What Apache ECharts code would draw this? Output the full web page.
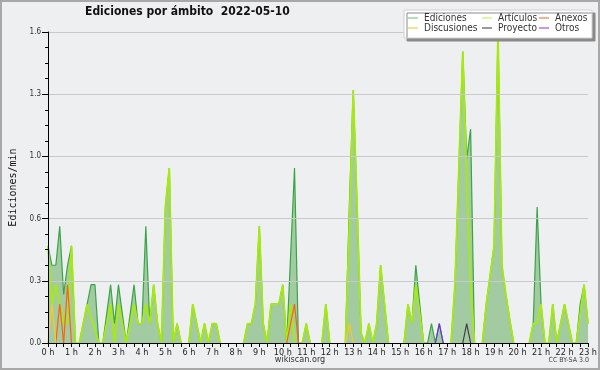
<!DOCTYPE html>
<html>
<head>
<meta charset="utf-8">
<script src="https://cdn.jsdelivr.net/npm/echarts@6/dist/echarts.min.js"></script>
<style>
html,body{margin:0;padding:0;background:#eeeff0;}
#chart{width:600px;height:370px;}
</style>
</head>
<body>
<div id="chart"></div>
<script>
// 10-minute samples from 0:00 to 23:00 (edits per minute)
const ediciones = [
0.5,0.4,0.4,0.6,0.25,0.4,0.5,0,0,0.1,0.2,0.3,0.3,0,0,0.15,0.3,0.1,0.3,0.15,
0,0.15,0.3,0.1,0.1,0.6,0.1,0.3,0.1,0,0.7,0.9,0,0.1,0,0,0,0.2,0.1,0,
0.1,0,0.1,0.1,0,0,0,0,0,0,0,0.1,0.1,0.2,0.6,0.1,0,0.2,0.2,0.2,
0.3,0,0.45,0.9,0,0,0.1,0,0,0,0,0.2,0,0,0,0,0,0.7,1.3,0.7,
0.05,0,0.1,0,0.1,0.4,0.2,0,0,0,0,0,0.2,0.1,0.4,0.2,0,0,0.1,0,
0.1,0,0,0,0.3,0.9,1.5,0.95,1.1,0,0,0,0.2,0.35,0.5,1.6,0.4,0.25,0.12,0,
0,0,0,0,0.1,0.7,0.2,0,0,0.2,0,0.1,0.2,0.1,0,0,0.2,0.3,0.1
];
const articulos = [
0.5,0.2,0.3,0.2,0.1,0.1,0.5,0,0,0.1,0.2,0.13,0.07,0,0,0.1,0.2,0,0.2,0.1,
0,0.1,0.2,0.1,0.1,0.2,0.1,0.3,0.1,0,0.7,0.9,0,0.1,0,0,0,0.2,0.1,0,
0.1,0,0.1,0.1,0,0,0,0,0,0,0,0.1,0.1,0.2,0.6,0.1,0,0.2,0.2,0.2,
0.3,0,0.2,0,0,0,0.1,0,0,0,0,0.2,0,0,0,0,0,0.6,1.3,0.7,
0.05,0,0.1,0,0.1,0.4,0.2,0,0,0,0,0,0.2,0.1,0.3,0.15,0,0,0,0,
0,0,0,0,0.3,0.9,1.5,0.85,0.3,0,0,0,0.2,0.35,0.5,1.6,0.4,0.25,0.12,0,
0,0,0,0,0.1,0.1,0.2,0,0,0.2,0,0.1,0.2,0.1,0,0,0.15,0.3,0.1
];
const anexos = new Array(139).fill(0);
anexos[3] = 0.2; anexos[5] = 0.3; anexos[62] = 0.1; anexos[63] = 0.2;
const discusiones = new Array(139).fill(0);
discusiones[1] = 0.2; discusiones[77] = 0.1;
const proyecto = new Array(139).fill(0);
proyecto[107] = 0.1;
const otros = new Array(139).fill(0);
otros[100] = 0.1;

const titleText = 'Ediciones por ámbito  2022-05-10';

const F = '"DejaVu Sans Condensed", "Liberation Sans", sans-serif';
// zero runs are not drawn (only zeros adjacent to activity), so the black axis stays visible
const pts = arr => arr.map((v, i) => {
  const prev = i > 0 ? arr[i - 1] : 0;
  const next = i < arr.length - 1 ? arr[i + 1] : 0;
  const y = (v === 0 && prev === 0 && next === 0) ? null : v;
  return [i / 6, y];
});

const chart = echarts.init(document.getElementById('chart'), null, {renderer:'canvas'});

function lineSeries(name, data, legendColor, lineColor, width, z) {
  return {
    name, type:'line', data: pts(data), symbol:'none', smooth:false, connectNulls:false,
    itemStyle:{color:legendColor},
    lineStyle:{color:lineColor, width:width},
    z: z, animation:false
  };
}

const legendCommon = {
  orient:'vertical', top:13, itemGap:0, padding:0, icon:'rect', z:60,
  itemWidth:10, itemHeight:1.2, itemStyle:{borderWidth:0},
  textStyle:{fontFamily:F, fontSize:10, color:'#333', lineHeight:10, padding:[0,0,0,1]},
  selectedMode:false
};

chart.setOption({
  backgroundColor:'#eeeff0',
  animation:false,
  title:{text:titleText, left:85, top:6, padding:0, textStyle:{fontFamily:F, fontWeight:'bold', fontSize:12, color:'#111'}},
  grid:{left:46, right:11, top:32, bottom:27, show:true, backgroundColor:'#eeeff1', borderWidth:0},
  legend:[
    Object.assign({}, legendCommon, {left:408, data:['Ediciones','Discusiones']}),
    Object.assign({}, legendCommon, {left:482, data:['Artículos','Proyecto']}),
    Object.assign({}, legendCommon, {left:539, data:['Anexos','Otros']})
  ],
  graphic:[
    {type:'rect', z:-1, shape:{x:1,y:1,width:598,height:368}, style:{fill:null, stroke:'#a8a8a8', lineWidth:2}, silent:true},
    {type:'rect', z:50, shape:{x:404,y:10,width:188,height:28}, style:{fill:'#ffffff', stroke:'#d0d0d0', lineWidth:1, shadowColor:'#8a8a8a', shadowOffsetX:3, shadowOffsetY:3, shadowBlur:0}, silent:true},
    {type:'text', left:'center', top:355, style:{text:'wikiscan.org', font:'9px ' + F, fill:'#333'}},
    {type:'text', right:11, top:357, style:{text:'CC BY-SA 3.0', font:'7px ' + F, fill:'#444'}}
  ],
  xAxis:{
    type:'value', min:0, max:23, interval:1, z:10,
    axisLine:{show:true, lineStyle:{color:'#000', width:1}},
    axisTick:{show:true, length:4, lineStyle:{color:'#000'}},
    minorTick:{show:true, splitNumber:3, length:4, lineStyle:{color:'#000'}},
    axisLabel:{formatter:v => v + ' h', margin:5, fontFamily:F, fontSize:9, color:'#222'},
    splitLine:{show:false}
  },
  yAxis:{
    type:'value', min:0, max:1.6, interval:0.32, z:10,
    name:'Ediciones/min', nameLocation:'middle', nameGap:30,
    nameTextStyle:{fontFamily:'"DejaVu Sans Mono", monospace', fontSize:10, color:'#111'},
    axisLine:{show:true, lineStyle:{color:'#000', width:1}},
    axisTick:{show:true, length:6, lineStyle:{color:'#000'}},
    minorTick:{show:true, splitNumber:4, length:3, lineStyle:{color:'#000'}},
    axisLabel:{formatter:v => v.toFixed(1), margin:7, fontFamily:F, fontSize:8, color:'#333'},
    splitLine:{show:true, lineStyle:{color:'#c9c9c9', width:1}}
  },
  series:[
    Object.assign(lineSeries('Ediciones', ediciones, '#7fcc88', '#3aa447', 1.2, 2), {areaStyle:{color:'#a2cba2', opacity:1}}),
    lineSeries('Artículos', articulos, '#ccee66', '#a8ea10', 1.8, 3),
    lineSeries('Anexos', anexos, '#f0804a', '#ff6010', 1.2, 4),
    lineSeries('Discusiones', discusiones, '#f4d040', '#ffc820', 1.2, 4),
    lineSeries('Proyecto', proyecto, '#555555', '#404040', 1.2, 4),
    lineSeries('Otros', otros, '#a050f0', '#7030e0', 1.2, 4)
  ]
});
</script>
</body>
</html>
